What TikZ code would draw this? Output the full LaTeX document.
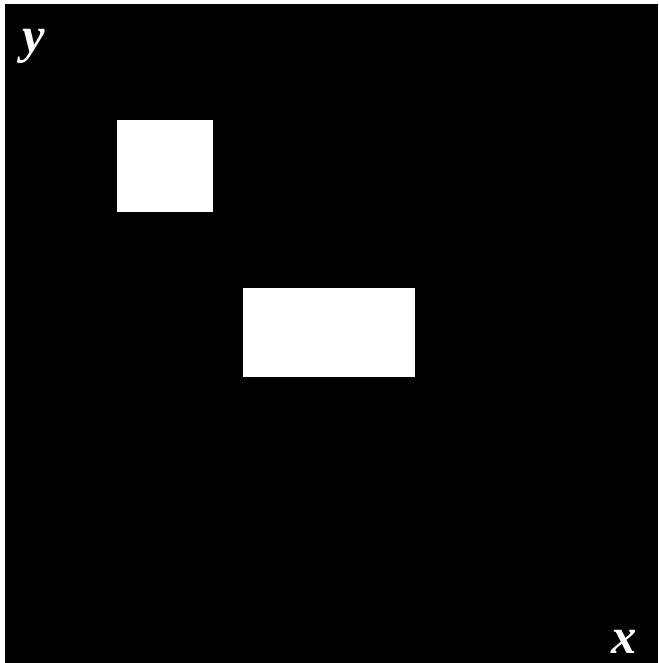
\documentclass[tikz,border=0pt]{standalone}
\usepackage{fontspec}
\setmainfont{Liberation Serif}
\usepackage{tikz}

\tikzset{
  axislabel/.style={text=white, inner sep=0pt, font=\fontsize{36}{40}\selectfont\bfseries\itshape},
  block/.style={fill=white, draw=none}
}

\begin{document}
\begin{tikzpicture}[x=0.025cm, y=-0.025cm]
  \useasboundingbox (0,0) rectangle (658,663);
  \fill[white] (0,0) rectangle (658,663);
  % --- field ---
  \fill[black] (5,4) rectangle (658,663);

  % --- objects ---
  \fill[block] (117,120) rectangle (213,212);
  \fill[block] (243,288) rectangle (415,377);

  % --- axes ---
  \node[axislabel, anchor=base west] (ylab) at (22,53) {y};
  \node[axislabel, anchor=base west] (xlab) at (611,653) {x};
\end{tikzpicture}
\end{document}
